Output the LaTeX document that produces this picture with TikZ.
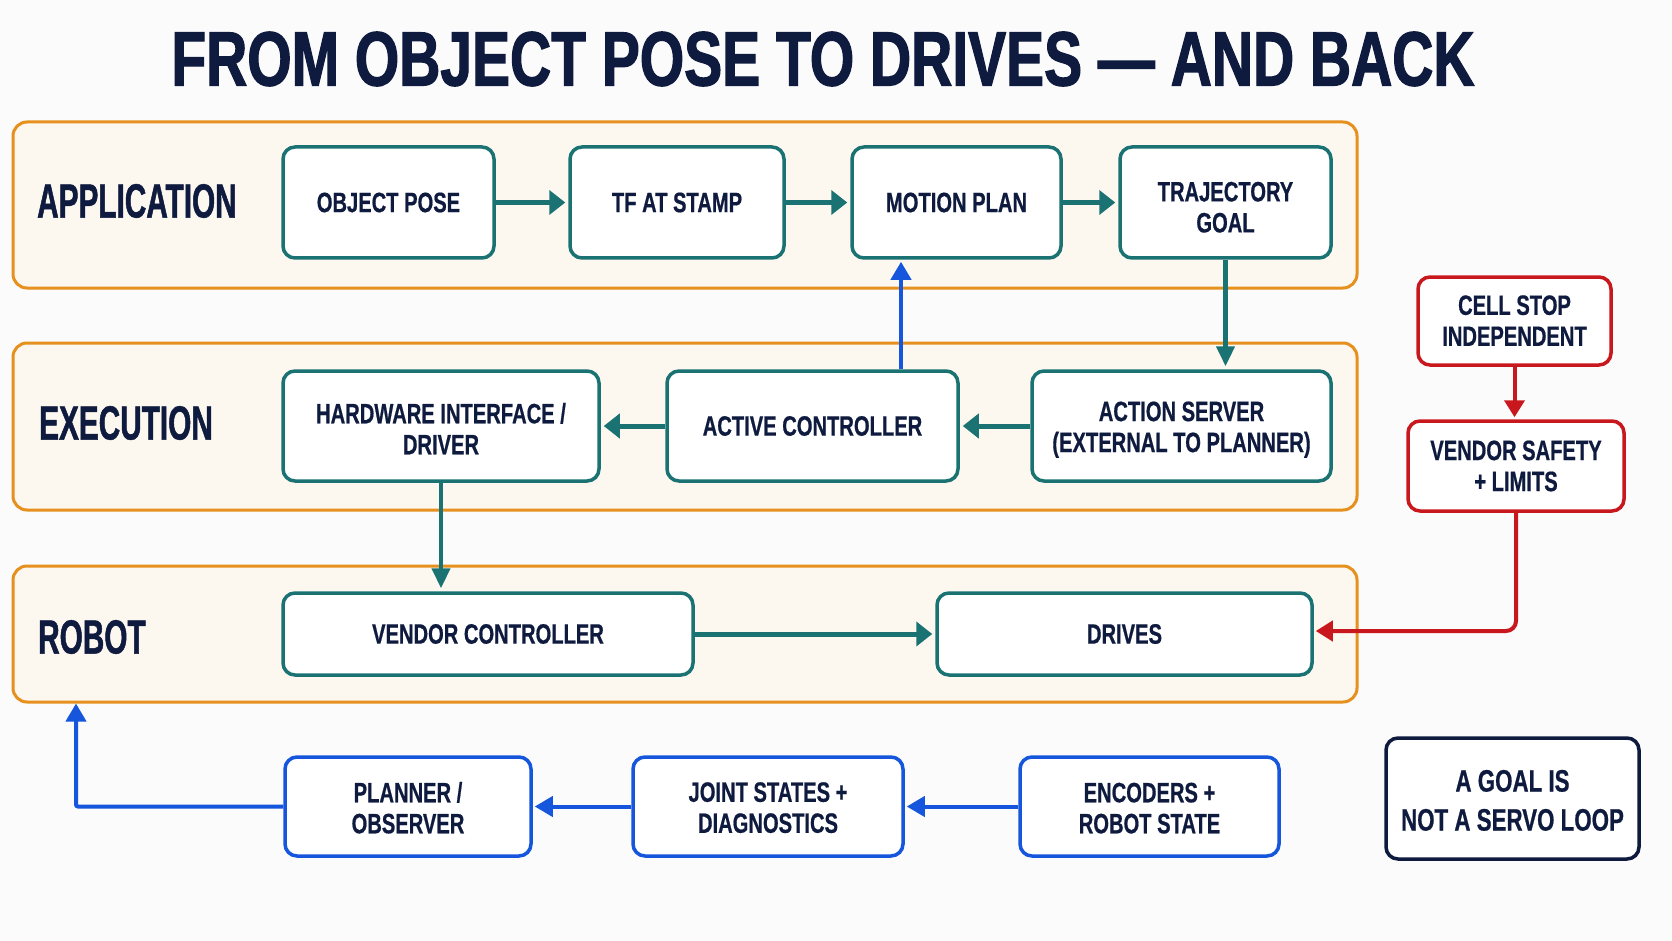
\documentclass[tikz,border=0pt]{standalone}
\usepackage{fontspec}
\setmainfont[FakeStretch=0.72,FakeBold=0.6]{Liberation Sans}
\newfontfamily\lanefont[FakeStretch=0.62,FakeBold=1]{Liberation Sans}
\newfontfamily\titlefont[FakeStretch=0.74,FakeBold=1.5]{Liberation Sans}
\usetikzlibrary{arrows.meta}
\definecolor{navy}{HTML}{0E1A3E}
\definecolor{tealc}{HTML}{1A7272}
\definecolor{lorange}{HTML}{E6901E}
\definecolor{lanefill}{HTML}{FCF8F0}
\definecolor{redc}{HTML}{C8181E}
\definecolor{bluec}{HTML}{1556DC}
\definecolor{bgc}{HTML}{FBFBFB}
\newcommand\twol[3][9.6]{\raisebox{-#1pt}[0pt][0pt]{\begin{tabular}{@{}c@{}}#2\\#3\end{tabular}}}
\begin{document}
\begin{tikzpicture}[x=1pt,y=-1pt,
 lane/.style={draw=lorange, line width=3pt, fill=lanefill, rounded corners=14pt, inner sep=0pt},
 box/.style={line width=3.5pt, fill=white, rounded corners=12pt, align=center, text=navy,
   font=\fontsize{28}{31}\selectfont\bfseries, inner sep=0pt},
 tbox/.style={box, draw=tealc},
 rbox/.style={box, draw=redc},
 bbox/.style={box, draw=bluec},
 nbox/.style={box, draw=navy, font=\fontsize{31}{39}\selectfont\bfseries},
 lanelabel/.style={anchor=west, text=navy, font=\lanefont\fontsize{48}{50}\selectfont\bfseries, inner sep=0pt},
 tarr/.style={draw=tealc, line width=5pt, -{Triangle[length=16pt,width=24pt]}, shorten >=3pt},
 tvarr/.style={draw=tealc, line width=4.5pt, -{Triangle[length=20pt,width=18pt]}, shorten >=3pt},
 barr/.style={draw=bluec, line width=4pt, -{Triangle[length=18pt,width=20pt]}, shorten >=2pt},
 rarr/.style={draw=redc, line width=4pt, rounded corners=10pt, -{Triangle[length=17pt,width=20pt]}, shorten >=2pt}
]
\useasboundingbox (0,0) rectangle (1672,941);
\fill[bgc] (0,0) rectangle (1672,941);

% title
\node[text=navy, font=\titlefont\fontsize{77}{80}\selectfont\bfseries] (title) at (823,59) {FROM OBJECT POSE TO DRIVES — AND BACK};

% lanes
\node[lane, minimum width=1344pt, minimum height=166pt] (app) at (685,205) {};
\node[lane, minimum width=1344pt, minimum height=167pt] (exe) at (685,426.5) {};
\node[lane, minimum width=1344pt, minimum height=136pt] (rob) at (685,634) {};

\node[lanelabel] (lapp) at (37,201) {APPLICATION};
\node[lanelabel] (lexe) at (39,423) {EXECUTION};
\node[lanelabel] (lrob) at (38,637) {ROBOT};

% application row
\node[tbox, minimum width=211pt, minimum height=111pt] (op) at (388.5,202.5) {OBJECT POSE};
\node[tbox, minimum width=214pt, minimum height=111pt] (tf) at (677,202.5) {TF AT STAMP};
\node[tbox, minimum width=209pt, minimum height=111pt] (mp) at (956.5,202.5) {MOTION PLAN};
\node[tbox, minimum width=211pt, minimum height=111pt] (tg) at (1225.5,202.5) {\twol[14.4]{TRAJECTORY}{GOAL}};

% execution row
\node[tbox, minimum width=316pt, minimum height=110pt] (hw) at (441,426) {\twol[12.8]{HARDWARE INTERFACE /}{DRIVER}};
\node[tbox, minimum width=291pt, minimum height=110pt] (ac) at (812.5,426) {ACTIVE CONTROLLER};
\node[tbox, minimum width=299pt, minimum height=110pt] (as) at (1181.5,426) {\twol[10.6]{ACTION SERVER}{(EXTERNAL TO PLANNER)}};

% robot row
\node[tbox, minimum width=410pt, minimum height=82pt] (vc) at (488,634) {VENDOR CONTROLLER};
\node[tbox, minimum width=375pt, minimum height=82pt] (dr) at (1124.5,634) {DRIVES};

% safety
\node[rbox, minimum width=193pt, minimum height=88pt] (cs) at (1514.5,321) {\twol[9.4]{CELL STOP}{INDEPENDENT}};
\node[rbox, minimum width=216pt, minimum height=90pt] (vs) at (1516,466) {\twol[9.6]{VENDOR SAFETY}{+ LIMITS}};

% feedback row
\node[bbox, minimum width=246pt, minimum height=99pt] (po) at (408,806.5) {\twol[11.3]{PLANNER /}{OBSERVER}};
\node[bbox, minimum width=270pt, minimum height=99pt] (js) at (768,806.5) {\twol[10.8]{JOINT STATES +}{DIAGNOSTICS}};
\node[bbox, minimum width=259pt, minimum height=99pt] (en) at (1149.5,806.5) {\twol[11.3]{ENCODERS +}{ROBOT STATE}};

% note
\node[nbox, minimum width=253pt, minimum height=121pt] (note) at (1512.5,798.5) {\twol[11]{A GOAL IS}{NOT A SERVO LOOP}};

% connectors
\draw[tarr] (op) -- (tf);
\draw[tarr] (tf) -- (mp);
\draw[tarr] (mp) -- (tg);
\draw[tvarr] (tg.south) -- (tg.south |- as.north);
\draw[tarr] (as) -- (ac);
\draw[tarr] (ac) -- (hw);
\draw[tvarr] (hw.south) -- (hw.south |- vc.north);
\draw[tarr] (vc) -- (dr);

\coordinate (bx) at (901,0);
\draw[barr] (ac.north -| bx) -- (mp.south -| bx);

\draw[rarr] (cs.south) -- (cs.south |- vs.north);
\draw[rarr] (vs.south) |- ([yshift=3pt]dr.east);

\draw[barr] (en) -- (js);
\draw[barr] (js) -- (po);
\coordinate (lx) at (76,0);
\draw[barr, rounded corners=2pt, shorten >=0pt] (po.west) -| (lx |- rob.south);
\end{tikzpicture}
\end{document}
